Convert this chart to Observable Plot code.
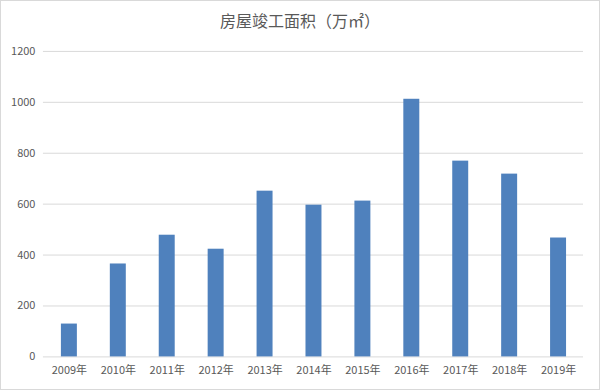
<!DOCTYPE html>
<html>
<head>
<meta charset="utf-8">
<script src="https://cdn.jsdelivr.net/npm/d3@7"></script>
<script src="https://cdn.jsdelivr.net/npm/@observablehq/plot@0.6"></script>
<style>
  html, body { margin: 0; padding: 0; background: #fff; }
  #wrap { position: relative; width: 600px; height: 390px; box-sizing: border-box; border: 1px solid #d9d9d9; overflow: hidden; }
  #title { position: absolute; top: 7px; left: 0; width: 100%; text-align: center; font-family: "Noto Sans CJK SC", sans-serif; font-size: 16px; color: #595959; }
  #chart { position: absolute; top: -1px; left: -1px; }
</style>
</head>
<body>
<div id="wrap">
  <div id="title">房屋竣工面积（万㎡）</div>
  <div id="chart"></div>
</div>
<script>
const years = ["2009年","2010年","2011年","2012年","2013年","2014年","2015年","2016年","2017年","2018年","2019年"];
const values = [129, 365, 478, 423, 651, 596, 612, 1012, 769, 718, 467];
const yTicks = [0, 200, 400, 600, 800, 1000, 1200];

const data = years.map((y, i) => ({year: y, value: values[i]}));

const plot = Plot.plot({
  width: 600,
  height: 390,
  marginTop: 51,
  marginBottom: 33,
  marginLeft: 43,
  marginRight: 16,
  style: {fontFamily: "'Noto Sans CJK SC', sans-serif", fontSize: "11px", color: "#595959", background: "transparent"},
  x: {domain: years, paddingInner: 0.68, paddingOuter: 0.34, label: null},
  y: {domain: [0, 1200], label: null},
  marks: [
    Plot.ruleY(yTicks, {stroke: "#d9d9d9", strokeWidth: 1}),
    Plot.barY(data, {x: "year", y: "value", fill: "#4f81bd"}),
    Plot.axisY({ticks: yTicks, tickFormat: d3.format("d"), tickSize: 0, tickPadding: 8, label: null, fill: "#595959"}),
    Plot.axisX({tickSize: 0, tickPadding: 9, label: null, fill: "#595959"})
  ]
});
document.getElementById("chart").appendChild(plot);
</script>
</body>
</html>
